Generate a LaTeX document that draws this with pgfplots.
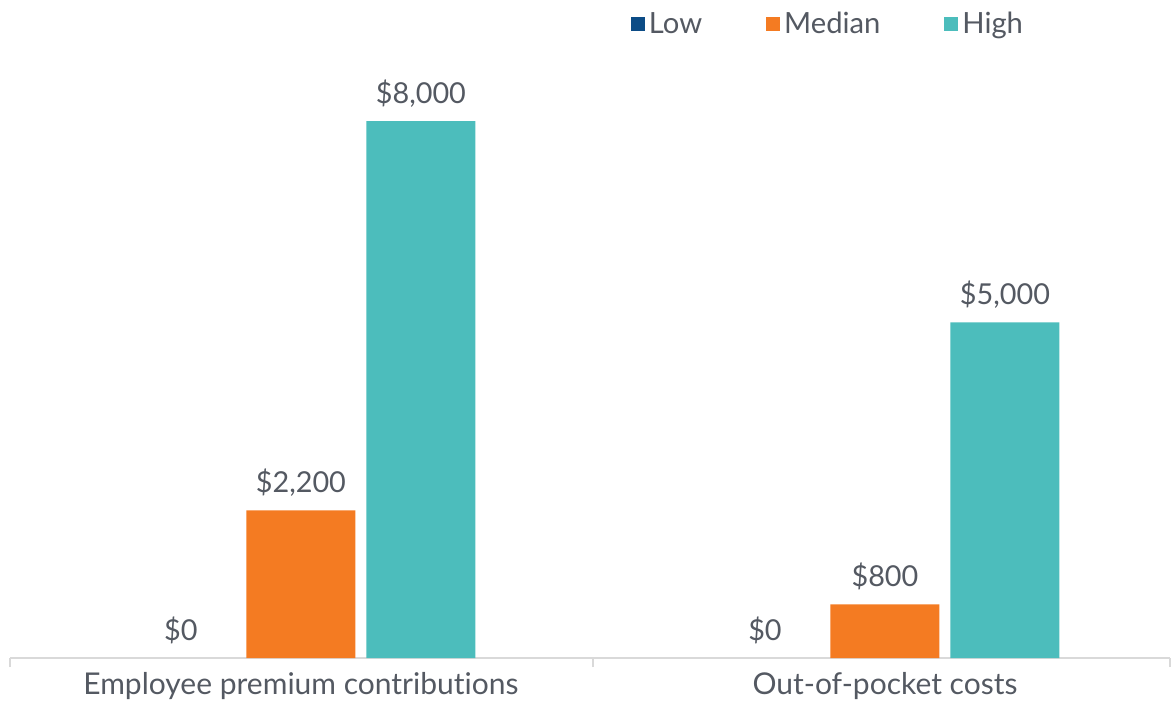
\documentclass[border=0pt]{standalone}
\usepackage{pgfplots}
\pgfplotsset{compat=1.18}
\usepackage{fontspec}
\setmainfont{Lato}[Ligatures=NoCommon]
\definecolor{cLow}{RGB}{12,76,134}
\definecolor{cMed}{RGB}{244,123,34}
\definecolor{cHigh}{RGB}{76,189,188}
\definecolor{txt}{RGB}{84,89,98}
\definecolor{axl}{RGB}{217,217,217}
\begin{document}
\begin{tikzpicture}
\path[use as bounding box] (0,0) rectangle (586pt,353.5pt);
\begin{axis}[
  at={(5pt,24.5pt)}, anchor=south west,
  scale only axis, width=580pt, height=302pt,
  ybar=5.5pt, bar width=54.5pt,
  xmin=-0.498, xmax=1.488, ymin=0, ymax=9000,
  xtick={0,1},
  xticklabels={Employee premium contributions, Out-of-pocket costs},
  major tick length=0pt,
  extra x ticks={-0.498,0.5,1.488},
  extra x tick labels={},
  extra x tick style={major tick length=4.5pt, tick align=outside, tick style={axl, line width=0.75pt}},
  axis x line*=bottom, axis y line=none,
  axis line style={axl, line width=0.9pt},
  x axis line style={-},
  tick pos=bottom,
  xticklabel style={font=\fontsize{15}{18}\selectfont, text=txt, yshift=-3.5pt},
  /pgf/number format/assume math mode=true,
  /pgf/number format/1000 sep={,},
  nodes near coords={\$\pgfmathprintnumber{\pgfplotspointmeta}},
  every node near coord/.append style={font=\fontsize{14.4}{17}\selectfont, text=txt, yshift=3.5pt},
  legend style={at={(0.706,1.015)}, anchor=south, draw=none, fill=none,
    legend columns=3, font=\fontsize{14.6}{17}\selectfont, text=txt,
    /tikz/every even column/.append style={column sep=30pt},
    legend cell align=left},
  legend image code/.code={\fill[#1] (0pt,-3.5pt) rectangle (7pt,3.5pt);},
  clip=false,
]
\addplot[fill=none, draw=none,
  legend image code/.code={\fill[cLow] (0pt,-3.5pt) rectangle (7pt,3.5pt);}]
  coordinates {(0,0) (1,0)};
\addplot[fill=cMed, draw=none] coordinates {(0,2200) (1,800)};
\addplot[fill=cHigh, draw=none] coordinates {(0,8000) (1,5000)};
\legend{Low, Median, High}
\end{axis}
\end{tikzpicture}
\end{document}
